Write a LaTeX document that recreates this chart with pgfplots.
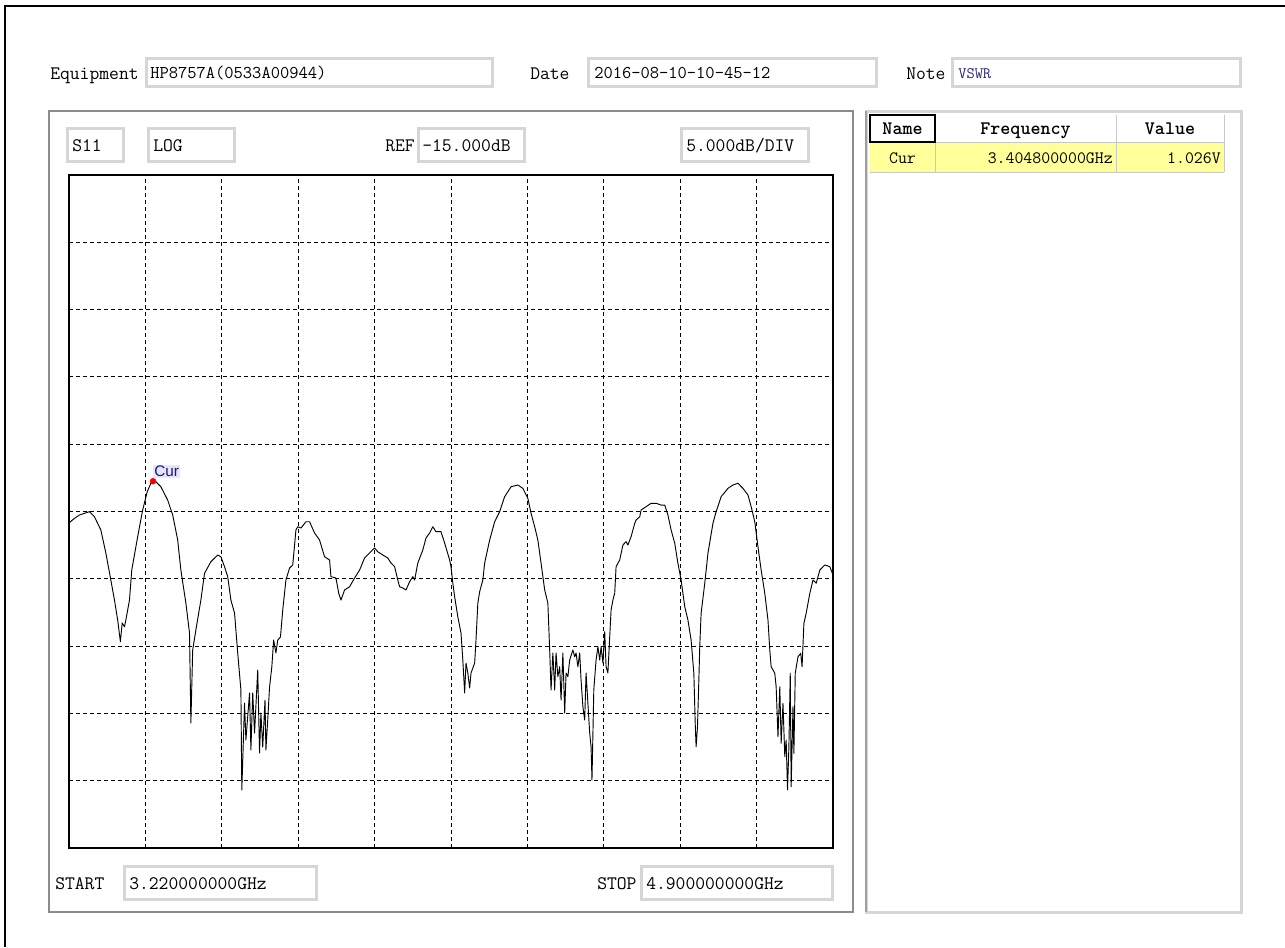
\documentclass[border=0pt]{standalone}
\usepackage{fontspec}
\usepackage{pgfplots}
\pgfplotsset{compat=1.18}
\newfontfamily\uisans{Liberation Sans}
\newcommand\sz[1]{\fontsize{#1}{#1}\selectfont}

\definecolor{boxedge}{RGB}{214,214,214}
\definecolor{paneledge}{RGB}{140,140,140}
\definecolor{rowyellow}{RGB}{255,255,153}
\definecolor{cellline}{RGB}{200,200,200}
\definecolor{notetext}{RGB}{40,40,120}
\definecolor{curtext}{RGB}{20,20,150}
\definecolor{curfill}{RGB}{230,230,245}

\begin{document}
\begin{tikzpicture}
% window furniture, in screen pixels (y down)
\begin{scope}[x=0.75pt,y=-0.75pt]
\path[use as bounding box] (0,0) rectangle (1285,947);
\fill[white] (0,0) rectangle (1285,947);
\draw[line width=1.5pt] (5,947) -- (5,6) -- (1285,6);

\tikzset{
  fbox/.style={fill=white,draw=boxedge,line width=2.25pt},
  lbl/.style={anchor=base west,inner sep=0pt,font=\ttfamily\sz{14.3}},
  val/.style={anchor=base west,inner sep=0pt,font=\ttfamily\sz{13.5}},
}

% top row
\node[lbl] at (50,79) {Equipment};
\draw[fbox] (146,58) rectangle (492,86);
\node[val] at (150,78) {HP8757A(0533A00944)};
\node[lbl] at (530,79) {Date};
\draw[fbox] (588,58) rectangle (876,86);
\node[val] at (594,78) {2016-08-10-10-45-12};
\node[lbl] at (906,79) {Note};
\draw[fbox] (952,58) rectangle (1240,86);
\node[val,text=notetext,font=\ttfamily\sz{12}] at (958,78) {VSWR};

% left panel
\draw[paneledge,line width=0.9pt] (49,111) rectangle (853,912);
\draw[fbox] (67,128) rectangle (123,161);
\node[lbl] at (72,151.5) {S11};
\draw[fbox] (148,128) rectangle (234,161);
\node[lbl] at (153,151.5) {LOG};
\node[lbl] at (385,151.5) {REF};
\draw[fbox] (418,128) rectangle (524,161);
\node[lbl] at (422,151.5) {-15.000dB};
\draw[fbox] (681,128) rectangle (808,161);
\node[lbl] at (686,151.5) {5.000dB/DIV};

\node[lbl] at (55,889) {START};
\draw[fbox] (124,866) rectangle (316,899);
\node[lbl] at (129,889) {3.220000000GHz};
\node[lbl] at (597,889) {STOP};
\draw[fbox] (641,866) rectangle (832,899);
\node[lbl] at (646,889) {4.900000000GHz};

% right panel with marker table
\draw[boxedge,line width=2.25pt] (866,111) rectangle (1241,912);
\draw[gray!75,line width=1.5pt] (866,111) -- (866,912);
\fill[rowyellow] (870,142) rectangle (1224,172);
\draw[cellline,line width=0.75pt] (935,115) -- (935,172) (1116,115) -- (1116,172)
  (1224,115) -- (1224,172) (870,172) -- (1224,172) (870,142) -- (1224,142);
\draw[black,line width=1.5pt] (870,115) rectangle (935,142);
\node[anchor=base,inner sep=0pt,font=\ttfamily\bfseries\sz{14.3}] at (902.5,134) {Name};
\node[anchor=base,inner sep=0pt,font=\ttfamily\bfseries\sz{14.3}] at (1025.5,134) {Frequency};
\node[anchor=base,inner sep=0pt,font=\ttfamily\bfseries\sz{14.3}] at (1170,134) {Value};
\node[anchor=base,inner sep=0pt,font=\ttfamily\sz{13}] at (902.5,163) {Cur};
\node[anchor=base east,inner sep=0pt,font=\ttfamily\sz{13}] at (1113,163) {3.404800000GHz};
\node[anchor=base east,inner sep=0pt,font=\ttfamily\sz{13}] at (1221,163) {1.026V};
\end{scope}

\begin{axis}[
  at={(51.75pt,-636pt)}, anchor=south west,
  width=573pt, height=504.75pt, scale only axis,
  xmin=3.22, xmax=4.90, ymin=-40, ymax=10,
  xtick={3.388,3.556,3.724,3.892,4.060,4.228,4.396,4.564,4.732},
  ytick={-35,-30,...,5},
  xticklabels={}, yticklabels={},
  major tick length=0pt,
  grid=major,
  grid style={black,line width=0.75pt,dash pattern=on 3pt off 2.25pt},
  axis line style={line width=1.5pt},
]
% S11 trace (dB), 3.22-4.90 GHz
\addplot[black,line width=0.7pt,line join=round] coordinates {
(3.220,-15.85) (3.232,-15.51) (3.243,-15.26) (3.265,-15.01) (3.276,-15.39) (3.290,-16.37)
(3.301,-18.08) (3.312,-20.09) (3.320,-21.58) (3.327,-23.06) (3.333,-24.67) (3.337,-23.28)
(3.342,-23.56) (3.345,-23.06) (3.353,-21.58) (3.358,-19.35) (3.371,-16.87) (3.382,-14.89)
(3.392,-13.53) (3.400,-12.90) (3.4048,-12.75) (3.411,-12.79) (3.422,-13.16) (3.437,-14.15)
(3.448,-15.26) (3.459,-17.12) (3.466,-19.35) (3.477,-21.80) (3.485,-24.03) (3.488,-30.71)
(3.492,-25.29) (3.499,-23.80) (3.510,-21.58) (3.518,-19.59) (3.532,-18.73) (3.547,-18.23)
(3.554,-18.36) (3.562,-19.10) (3.569,-19.84) (3.576,-21.58) (3.584,-22.54) (3.591,-25.51)
(3.598,-28.26) (3.600,-35.69) (3.606,-29.23) (3.609,-31.98) (3.617,-28.48) (3.620,-32.72)
(3.624,-28.48) (3.628,-31.46) (3.635,-26.78) (3.639,-32.94) (3.642,-29.97) (3.646,-32.50)
(3.651,-29.01) (3.653,-32.72) (3.657,-30.49) (3.661,-28.04) (3.666,-26.55) (3.670,-24.55)
(3.675,-25.51) (3.679,-24.55) (3.685,-24.32) (3.690,-22.32) (3.697,-20.09) (3.705,-19.20)
(3.712,-18.97) (3.719,-16.37) (3.723,-16.13) (3.730,-16.23) (3.741,-15.76) (3.749,-15.76)
(3.760,-16.60) (3.771,-17.12) (3.782,-18.36) (3.793,-18.60) (3.796,-19.84) (3.807,-19.94)
(3.813,-21.06) (3.818,-21.58) (3.826,-20.83) (3.837,-20.59) (3.848,-19.94) (3.859,-19.35)
(3.870,-18.45) (3.881,-18.08) (3.892,-17.71) (3.899,-17.99) (3.910,-18.23) (3.921,-18.45)
(3.928,-18.83) (3.936,-19.10) (3.943,-20.09) (3.947,-20.59) (3.954,-20.68) (3.961,-20.83)
(3.969,-20.22) (3.976,-19.84) (3.980,-20.09) (3.987,-18.83) (3.998,-17.86) (4.005,-16.97)
(4.013,-16.60) (4.020,-16.13) (4.027,-16.50) (4.038,-16.50) (4.046,-17.34) (4.057,-18.60)
(4.060,-19.10) (4.064,-20.31) (4.068,-21.33) (4.075,-22.82) (4.082,-24.03) (4.086,-26.03)
(4.090,-28.48) (4.093,-26.26) (4.097,-27.00) (4.101,-28.11) (4.104,-27.00) (4.112,-26.26)
(4.115,-24.55) (4.119,-21.80) (4.123,-20.96) (4.130,-20.09) (4.134,-18.83) (4.145,-17.12)
(4.156,-15.76) (4.167,-15.01) (4.178,-13.90) (4.192,-13.16) (4.207,-13.03) (4.218,-13.28)
(4.229,-14.02) (4.236,-15.13) (4.244,-16.13) (4.251,-17.12) (4.258,-18.83) (4.266,-20.83)
(4.273,-21.80) (4.277,-25.29) (4.280,-28.26) (4.284,-25.51) (4.288,-28.26) (4.291,-25.51)
(4.295,-27.27) (4.299,-26.53) (4.302,-29.01) (4.306,-25.51) (4.310,-29.97) (4.313,-27.00)
(4.317,-27.27) (4.321,-26.03) (4.328,-25.29) (4.332,-25.79) (4.335,-25.51) (4.339,-26.53)
(4.343,-25.51) (4.346,-27.52) (4.350,-29.50) (4.354,-30.49) (4.357,-27.00) (4.361,-29.23)
(4.365,-31.46) (4.368,-32.48) (4.370,-34.95) (4.374,-28.26) (4.379,-26.03) (4.383,-25.05)
(4.387,-26.03) (4.390,-25.05) (4.394,-26.26) (4.398,-23.93) (4.401,-26.53) (4.405,-27.00)
(4.409,-24.30) (4.412,-22.32) (4.416,-21.58) (4.420,-21.06) (4.423,-19.10) (4.431,-18.60)
(4.438,-17.49) (4.445,-17.24) (4.449,-17.49) (4.456,-16.87) (4.464,-15.88) (4.467,-15.63)
(4.475,-15.39) (4.478,-14.89) (4.489,-14.64) (4.500,-14.39) (4.511,-14.39) (4.522,-14.52)
(4.530,-14.52) (4.537,-15.26) (4.544,-16.37) (4.552,-17.36) (4.559,-18.85) (4.566,-20.09)
(4.574,-22.07) (4.581,-23.06) (4.588,-24.55) (4.594,-27.02) (4.597,-30.74) (4.599,-32.48)
(4.602,-30.99) (4.605,-27.52) (4.607,-25.05) (4.610,-22.56) (4.618,-20.33) (4.625,-18.11)
(4.636,-15.88) (4.643,-15.01) (4.654,-13.90) (4.669,-13.28) (4.680,-13.03) (4.691,-12.90)
(4.702,-13.28) (4.713,-13.77) (4.720,-14.64) (4.728,-15.76) (4.735,-17.62) (4.742,-19.35)
(4.750,-21.08) (4.757,-23.06) (4.761,-25.29) (4.764,-26.53) (4.772,-27.02) (4.775,-28.02)
(4.779,-31.73) (4.783,-28.02) (4.786,-32.22) (4.790,-29.25) (4.794,-33.22) (4.797,-31.98)
(4.800,-35.69) (4.803,-32.48) (4.806,-27.02) (4.808,-35.45) (4.812,-29.50) (4.814,-32.97)
(4.817,-27.02) (4.823,-25.79) (4.829,-25.54) (4.832,-26.53) (4.836,-23.31) (4.841,-22.56)
(4.849,-21.08) (4.856,-20.09) (4.863,-20.33) (4.871,-19.35) (4.882,-18.97) (4.893,-19.10)
(4.900,-19.72)
};
% marker "Cur"
\addplot[only marks,mark=*,mark size=2.2pt,red] coordinates {(3.4048,-12.75)};
\node[anchor=south west,fill=curfill,text=curtext,inner sep=0.8pt,yshift=2.5pt,
      font=\uisans\sz{11.5}] at (axis cs:3.4048,-12.75) {Cur};
\end{axis}
\end{tikzpicture}
\end{document}
